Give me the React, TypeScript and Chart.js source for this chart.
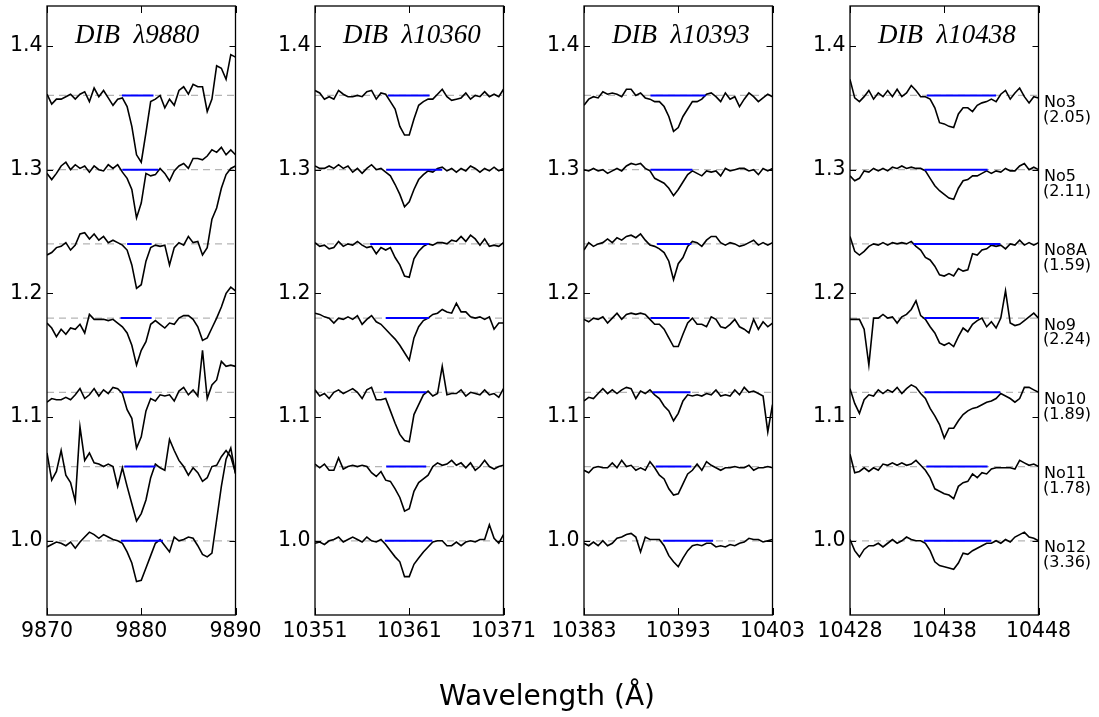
import React, { useEffect, useRef } from "react";
import { Chart, registerables } from "chart.js";
Chart.register(...registerables);

// ---------------- data ----------------
const panelTitles = ["DIB  λ9880", "DIB  λ10360", "DIB  λ10393", "DIB  λ10438"];
const panelStart = [9870, 10351, 10383, 10428];
const panelEnd = [9890, 10371, 10403, 10448];
const sampleStep = 0.5; // Å between samples
const xTicks = [
  [9870, 9880, 9890],
  [10351, 10361, 10371],
  [10383, 10393, 10403],
  [10428, 10438, 10448],
];
const yTicks = [1.0, 1.1, 1.2, 1.3, 1.4];
const starNames = ["No3", "No5", "No8A", "No9", "No10", "No11", "No12"];
const reddening = ["(2.05)", "(2.11)", "(1.59)", "(2.24)", "(1.89)", "(1.78)", "(3.36)"];
const offsets = [0.36, 0.3, 0.24, 0.18, 0.12, 0.06, 0.0];

// panel 1: DIB 9880
const p1No3 = [1.001,0.993,0.997,0.997,0.999,1.001,0.997,1.001,1.003,0.995,1.006,0.999,1.004,0.998,0.992,0.997,0.998,0.991,0.975,0.952,0.946,0.970,0.995,0.997,1.000,0.990,0.997,0.992,1.004,1.007,1.001,1.009,1.007,1.007,0.987,0.997,1.024,1.022,1.013,1.033,1.031];
const p1No5 = [0.997,0.992,0.997,1.003,1.006,1.000,1.004,1.001,1.003,0.998,1.003,1.000,0.999,1.004,1.001,1.004,0.998,0.993,0.984,0.961,0.973,0.997,0.995,0.996,1.001,0.997,0.991,0.999,1.003,1.005,1.001,1.009,1.009,1.008,1.011,1.016,1.014,1.018,1.012,1.016,1.012];
const p1No8A = [0.991,0.993,0.997,0.998,1.001,0.995,0.999,1.008,1.009,1.004,1.008,1.003,1.006,1.001,1.003,1.001,0.999,0.995,0.983,0.964,0.967,0.986,0.997,0.999,0.998,0.999,0.983,0.997,1.001,0.999,1.006,1.001,1.002,0.991,0.997,1.020,1.029,1.045,1.056,1.061,1.063];
const p1No9 = [0.996,0.992,0.985,0.991,0.987,0.992,0.991,0.995,0.988,1.003,0.999,0.999,0.999,0.998,0.999,0.996,0.993,0.988,0.978,0.962,0.974,0.981,0.995,0.998,0.995,0.992,0.996,0.995,1.000,1.002,1.002,0.999,0.993,0.982,0.984,0.992,1.000,1.009,1.020,1.025,1.022];
const p1No10 = [0.992,0.995,0.994,0.994,0.996,0.994,0.998,1.003,0.995,0.998,1.003,0.997,1.002,0.999,1.004,1.003,0.999,0.986,0.979,0.955,0.964,0.985,0.995,0.993,0.998,0.997,0.998,0.993,1.001,1.004,0.998,1.002,0.997,1.034,0.995,1.006,1.010,1.025,1.021,1.022,1.021];
const p1No11 = [1.011,0.989,0.996,1.013,0.993,0.987,0.972,1.032,1.005,1.011,1.003,1.002,1.000,1.002,1.000,0.984,0.999,0.984,0.970,0.956,0.962,0.973,0.991,1.002,0.999,0.997,1.022,1.013,1.005,1.000,0.993,0.999,0.995,0.988,0.991,1.000,1.001,1.008,1.013,1.008,0.995];
const p1No12 = [0.995,0.997,0.999,0.998,0.996,0.999,0.994,0.999,1.003,1.007,1.005,1.002,1.005,1.003,1.001,1.000,0.998,0.991,0.982,0.967,0.968,0.978,0.988,0.998,1.001,0.996,0.991,1.003,1.000,1.001,1.003,1.002,0.996,0.989,0.987,0.990,1.017,1.044,1.066,1.075,1.054];

// panel 2: DIB 10360
const p2No3 = [1.004,1.002,0.997,0.999,0.997,1.004,1.001,0.999,0.999,1.000,0.999,1.003,1.004,0.997,1.002,1.001,0.995,0.989,0.975,0.968,0.968,0.981,0.992,0.995,0.997,0.997,1.001,1.005,0.999,0.996,0.997,0.998,1.002,0.997,1.000,0.999,1.003,0.999,1.001,0.999,1.005];
const p2No5 = [1.003,1.001,1.001,1.003,1.001,1.004,1.001,1.003,0.998,1.001,0.997,1.001,1.004,1.000,1.001,0.998,0.995,0.988,0.980,0.970,0.974,0.984,0.992,0.996,0.999,0.998,1.001,1.002,0.999,1.001,0.998,1.001,0.999,1.003,1.001,0.998,1.001,0.999,1.002,0.999,1.001];
const p2No8A = [1.001,0.998,0.999,0.996,0.997,1.002,0.998,1.000,0.999,1.002,0.999,0.997,0.998,0.992,0.997,0.995,0.997,0.989,0.983,0.974,0.973,0.988,0.994,0.998,1.000,0.999,1.001,1.001,1.000,1.003,1.002,1.006,1.002,1.007,1.004,0.999,1.004,0.998,0.999,0.998,1.001];
const p2No9 = [1.004,1.003,1.001,1.000,0.996,1.000,0.999,1.001,0.999,1.002,0.995,0.999,1.002,0.997,0.995,0.991,0.987,0.983,0.978,0.972,0.966,0.984,0.993,0.998,1.000,1.003,1.004,1.007,1.005,1.004,1.012,1.005,1.005,1.001,1.000,1.001,0.999,1.001,0.991,0.996,0.996];
const p2No10 = [1.002,0.997,0.999,0.995,1.000,1.002,0.999,1.001,1.003,1.000,0.995,1.002,1.004,0.994,0.994,0.995,0.985,0.975,0.966,0.961,0.960,0.982,0.990,0.998,1.001,0.997,0.999,1.021,0.998,0.999,0.999,1.002,0.997,1.000,0.999,0.998,1.002,0.998,0.999,0.996,1.003];
const p2No11 = [1.002,0.999,1.002,0.997,0.997,1.007,0.998,1.000,1.001,1.000,1.001,1.000,0.995,0.992,0.996,0.989,0.988,0.982,0.975,0.964,0.966,0.980,0.987,0.990,0.993,1.000,1.003,1.001,1.002,1.005,1.001,1.003,0.999,1.003,0.997,1.000,1.005,1.000,0.998,1.000,1.001];
const p2No12 = [0.998,0.999,0.997,1.000,1.001,1.003,0.999,1.001,1.003,1.001,0.999,1.003,1.000,0.999,1.001,0.997,0.992,0.987,0.983,0.971,0.971,0.981,0.986,0.991,0.995,0.999,1.000,1.000,0.996,0.996,0.999,0.996,0.999,1.000,0.999,1.001,1.001,1.013,1.002,0.998,1.005];

// panel 3: DIB 10393
const p3No3 = [0.992,0.997,0.999,0.998,1.003,1.001,1.002,1.001,0.999,1.005,1.005,1.000,1.002,0.998,0.997,0.995,0.995,0.991,0.983,0.971,0.974,0.983,0.989,0.995,0.995,0.997,1.001,1.002,0.999,0.995,1.002,0.997,0.999,0.991,0.997,1.002,0.999,0.995,0.998,1.001,0.999];
const p3No5 = [1.000,0.999,1.001,0.999,1.000,0.997,0.999,1.001,0.999,1.003,1.005,1.004,1.005,1.001,0.999,0.993,0.991,0.989,0.985,0.979,0.984,0.990,0.996,0.999,0.997,0.995,0.999,0.998,0.999,0.995,1.001,0.999,1.000,1.001,1.001,0.999,1.000,0.996,1.001,0.999,1.001];
const p3No8A = [0.995,1.001,0.998,1.000,1.001,1.004,1.001,1.005,1.003,1.006,1.007,1.005,1.008,1.003,0.999,0.998,0.996,0.993,0.986,0.971,0.984,0.989,0.998,1.002,1.001,0.998,1.003,1.006,1.006,1.001,0.999,1.001,1.000,0.998,0.999,1.001,1.003,0.999,1.001,0.999,1.001];
const p3No9 = [0.999,0.997,1.000,0.999,1.001,0.996,1.000,1.004,0.999,1.003,1.004,1.003,1.004,1.003,0.999,0.995,0.995,0.991,0.984,0.977,0.977,0.987,0.996,1.000,0.995,0.995,0.993,1.001,0.999,0.993,0.992,0.995,0.999,0.993,0.991,0.988,0.999,0.991,0.997,0.993,0.996];
const p3No10 = [0.993,0.996,0.995,0.999,1.003,0.999,1.002,0.999,1.002,1.004,1.003,0.995,1.001,0.999,1.002,0.998,0.995,0.989,0.985,0.977,0.983,0.993,0.998,0.997,0.998,0.997,0.999,0.998,1.002,0.997,0.998,0.997,1.002,0.998,1.004,1.000,1.001,0.999,0.997,0.968,0.990];
const p3No11 = [0.997,0.995,0.999,1.000,0.999,0.999,1.003,0.999,1.005,1.000,1.001,0.997,0.999,0.997,1.004,0.999,0.993,0.990,0.982,0.977,0.978,0.986,0.994,0.997,1.002,0.997,1.004,1.001,0.999,0.997,0.999,0.999,1.000,0.999,0.999,1.001,0.997,0.999,0.999,1.000,0.999];
const p3No12 = [0.998,0.996,0.999,0.996,1.000,0.996,0.998,1.002,1.003,1.005,1.006,1.003,0.991,1.003,1.001,1.001,1.001,0.996,0.988,0.983,0.979,0.986,0.992,0.996,0.997,0.996,0.998,0.998,0.995,0.996,0.995,0.997,0.996,0.998,0.999,1.002,1.001,1.001,0.999,1.000,1.001];

// panel 4: DIB 10438
const p4No3 = [1.013,0.998,0.995,0.999,1.004,0.997,1.002,0.999,1.004,0.999,1.005,0.999,1.002,1.008,1.004,0.999,0.999,0.997,0.990,0.978,0.977,0.975,0.974,0.985,0.990,0.990,0.987,0.992,0.994,0.995,0.997,0.995,1.001,1.004,0.997,1.002,1.006,0.999,0.994,0.999,0.998];
const p4No5 = [0.995,0.991,0.993,0.999,0.998,1.001,0.999,1.001,0.999,1.002,1.001,1.003,1.001,1.002,1.001,1.001,0.999,0.993,0.987,0.983,0.980,0.977,0.976,0.985,0.991,0.992,0.995,0.995,0.997,0.999,0.997,0.999,0.998,1.001,0.999,0.999,1.003,1.005,1.000,1.002,1.000];
const p4No8A = [1.006,0.994,0.991,0.994,0.998,1.000,0.999,1.001,0.999,1.001,1.000,1.001,1.000,1.002,0.998,0.995,0.989,0.987,0.982,0.975,0.974,0.976,0.974,0.980,0.978,0.979,0.992,0.991,0.995,0.996,0.999,0.998,0.999,0.996,1.000,0.999,1.003,0.999,1.001,0.999,1.001];
const p4No9 = [0.999,0.999,0.999,0.991,0.962,1.000,1.000,1.003,1.000,1.001,0.996,1.001,1.003,1.007,1.014,1.002,0.999,0.993,0.988,0.980,0.978,0.980,0.977,0.985,0.992,0.989,0.995,0.998,1.000,0.993,0.997,0.992,1.000,1.022,0.996,0.994,0.995,0.998,1.001,1.004,1.000];
const p4No10 = [1.003,0.991,0.983,0.994,0.998,0.997,1.002,0.999,1.002,1.000,1.004,0.999,1.003,1.006,1.004,0.999,0.995,0.987,0.981,0.974,0.963,0.971,0.971,0.977,0.982,0.985,0.987,0.988,0.990,0.992,0.993,0.995,0.999,0.997,0.995,0.992,0.995,1.004,1.004,1.002,1.000];
const p4No11 = [1.010,0.995,0.996,0.999,0.996,0.999,0.997,1.002,1.001,1.003,1.001,1.003,1.001,1.002,1.005,1.001,0.997,0.991,0.982,0.980,0.978,0.977,0.974,0.984,0.987,0.988,0.994,0.991,0.995,0.994,0.998,0.999,0.999,0.999,0.999,0.998,1.005,1.003,1.001,1.002,1.000];
const p4No12 = [1.001,0.992,0.987,0.993,0.996,0.996,0.998,0.995,0.998,1.001,0.998,1.000,1.003,1.001,1.000,1.000,0.998,0.992,0.983,0.980,0.979,0.978,0.977,0.982,0.990,0.989,0.992,0.994,0.996,0.998,0.998,1.000,0.998,1.001,0.999,1.003,1.005,1.007,1.003,1.002,1.000];

// integration ranges (blue bars), Å
const p1Ranges = [[9877.95,9881.3],[9878.0,9881.8],[9878.5,9881.1],[9877.8,9881.1],[9878.0,9881.1],[9878.2,9881.5],[9877.85,9882.3]];
const p2Ranges = [[10358.75,10363.15],[10358.55,10364.5],[10356.85,10363.1],[10358.5,10363.1],[10358.3,10362.8],[10358.55,10362.8],[10358.4,10363.45]];
const p3Ranges = [[10390.05,10395.9],[10390.05,10394.5],[10390.75,10394.4],[10390.05,10394.2],[10390.3,10394.3],[10390.6,10394.4],[10391.4,10396.7]];
const p4Ranges = [[10436.15,10443.5],[10435.9,10442.6],[10434.75,10443.95],[10435.9,10441.7],[10435.9,10443.95],[10436.1,10442.6],[10435.85,10443.0]];

const panelSpectra = [
  [p1No3, p1No5, p1No8A, p1No9, p1No10, p1No11, p1No12],
  [p2No3, p2No5, p2No8A, p2No9, p2No10, p2No11, p2No12],
  [p3No3, p3No5, p3No8A, p3No9, p3No10, p3No11, p3No12],
  [p4No3, p4No5, p4No8A, p4No9, p4No10, p4No11, p4No12],
];
const panelRanges = [p1Ranges, p2Ranges, p3Ranges, p4Ranges];

// ---------------- layout ----------------
const plotLefts = [47, 315, 584, 850];
const AXIS_W = 60;
const RIGHT_PAD = 60.5;
const CANVAS_W = 309;
const CANVAS_H = 717;
const Y_MIN = 0.94;
const Y_MAX = 1.4323;

function makePlugin(idx: number) {
  return {
    id: "frameAndText" + idx,
    afterDraw(chart: any) {
      const { ctx, chartArea: a, scales } = chart;
      ctx.save();
      ctx.strokeStyle = "#000";
      ctx.lineWidth = 1.3;
      ctx.strokeRect(a.left, a.top, a.right - a.left, a.bottom - a.top);
      ctx.lineWidth = 1;
      ctx.beginPath();
      yTicks.forEach((v) => {
        const y = Math.round(scales.y.getPixelForValue(v)) + 0.5;
        ctx.moveTo(a.left, y);
        ctx.lineTo(a.left + 6, y);
        ctx.moveTo(a.right, y);
        ctx.lineTo(a.right - 6, y);
      });
      xTicks[idx].forEach((v) => {
        const x = Math.round(scales.x.getPixelForValue(v)) + 0.5;
        ctx.moveTo(x, a.bottom);
        ctx.lineTo(x, a.bottom - 7);
        ctx.moveTo(x, a.top);
        ctx.lineTo(x, a.top + 7);
      });
      ctx.stroke();

      ctx.fillStyle = "#000";
      ctx.font = "italic 27px 'Liberation Serif'";
      ctx.textAlign = "left";
      ctx.textBaseline = "alphabetic";
      ctx.fillText(panelTitles[idx], a.left + 28, a.top + 37.3);

      if (idx === 3) {
        ctx.font = "16px 'DejaVu Sans'";
        offsets.forEach((off, s) => {
          const y = scales.y.getPixelForValue(1 + off);
          ctx.fillText(starNames[s], a.right + 5.5, y + 11.5);
          ctx.fillText(reddening[s], a.right + 4.5, y + 26.3);
        });
      }
      ctx.restore();
    },
  };
}

function Panel({ idx }: { idx: number }) {
  const ref = useRef<HTMLCanvasElement | null>(null);
  useEffect(() => {
    if (!ref.current) return;
    const spectra = panelSpectra[idx];
    const ranges = panelRanges[idx];
    const datasets: any[] = [];
    offsets.forEach((off, s) => {
      datasets.push({
        data: [
          { x: panelStart[idx], y: 1 + off },
          { x: panelEnd[idx], y: 1 + off },
        ],
        borderColor: "#b5b5b5",
        borderWidth: 1.3,
        borderDash: [7, 5],
        pointRadius: 0,
        order: 3,
      });
      datasets.push({
        data: spectra[s].map((f, i) => ({ x: panelStart[idx] + i * sampleStep, y: f + off })),
        borderColor: "#000",
        borderWidth: 1.6,
        pointRadius: 0,
        order: 2,
      });
      datasets.push({
        data: [
          { x: ranges[s][0], y: 1 + off },
          { x: ranges[s][1], y: 1 + off },
        ],
        borderColor: "#0000ff",
        borderWidth: 2,
        pointRadius: 0,
        order: 1,
      });
    });

    const tickFont = { family: "'DejaVu Sans'", size: 20.5 };
    const chart = new Chart(ref.current, {
      type: "line",
      data: { datasets },
      plugins: [makePlugin(idx)],
      options: {
        animation: false,
        responsive: false,
        maintainAspectRatio: false,
        events: [],
        layout: { padding: { left: 0, right: RIGHT_PAD, top: 6, bottom: 62 } },
        plugins: {
          legend: { display: false },
          tooltip: { enabled: false },
          title: { display: false },
        },
        elements: { line: { tension: 0 }, point: { radius: 0 } },
        scales: {
          x: {
            type: "linear",
            min: panelStart[idx],
            max: panelEnd[idx],
            grid: { display: false, drawTicks: false },
            border: { display: false },
            afterBuildTicks: (s: any) => {
              s.ticks = xTicks[idx].map((v) => ({ value: v }));
            },
            afterFit: (s: any) => {
              s.height = 40;
              s.paddingLeft = 0;
              s.paddingRight = 0;
            },
            ticks: {
              padding: 4,
              color: "#000",
              font: tickFont,
              maxRotation: 0,
              autoSkip: false,
              callback: (v: any) => String(v),
            },
          },
          y: {
            type: "linear",
            min: Y_MIN,
            max: Y_MAX,
            grid: { display: false, drawTicks: false },
            border: { display: false },
            afterBuildTicks: (s: any) => {
              s.ticks = yTicks.map((v) => ({ value: v }));
            },
            afterFit: (s: any) => {
              s.width = AXIS_W;
              s.paddingTop = 0;
              s.paddingBottom = 0;
            },
            ticks: {
              padding: 4.5,
              color: "#000",
              font: tickFont,
              autoSkip: false,
              callback: (v: any) => Number(v).toFixed(1),
            },
          },
        },
      } as any,
    });
    return () => chart.destroy();
  }, [idx]);

  return (
    <canvas
      ref={ref}
      width={CANVAS_W}
      height={CANVAS_H}
      style={{
        position: "absolute",
        left: plotLefts[idx] - AXIS_W,
        top: 0,
        width: CANVAS_W,
        height: CANVAS_H,
      }}
    />
  );
}

export default function App() {
  return (
    <div style={{ position: "absolute", left: 0, top: 0, width: 1099, height: 717, background: "#fff", overflow: "hidden" }}>
      {[0, 1, 2, 3].map((i) => (
        <Panel key={i} idx={i} />
      ))}
      <div
        style={{
          position: "absolute",
          left: 547,
          top: 682,
          transform: "translateX(-50%)",
          fontFamily: "'DejaVu Sans'",
          fontSize: 28,
          lineHeight: "28px",
          whiteSpace: "nowrap",
          color: "#000",
        }}
      >
        Wavelength (Å)
      </div>
    </div>
  );
}
